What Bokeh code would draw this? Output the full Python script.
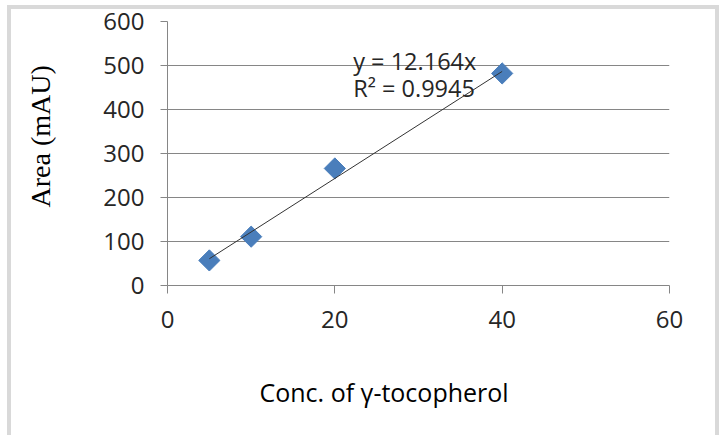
from bokeh.plotting import figure
from bokeh.models import Range1d, FixedTicker, Label, Title
from bokeh.embed import file_html
from bokeh.resources import INLINE
import numpy as np

# ---- data ----
conc = [5, 10, 20, 40]
area = [57, 111, 266, 482]
slope = 12.164
r2 = 0.9945
x_ticks = [0, 20, 40, 60]
y_ticks = [0, 100, 200, 300, 400, 500, 600]
x_title = "Conc. of γ-tocopherol"
y_title = "Area (mAU)"

TICK_FONT = "Open Sans"
TXT = "#262626"
GRID = "#868686"

p = figure(width=719, height=435, output_backend="svg", toolbar_location=None,
           x_range=Range1d(0, 60), y_range=Range1d(0, 600),
           min_border_left=167, min_border_right=50, min_border_top=21,
           min_border_bottom=150, background_fill_color="white",
           border_fill_color=None)
p.outline_line_color = None
p.styles = {
    "background-color": "white",
    "box-shadow": ("inset 0 5px 0 0 white, inset 7px 0 0 0 white, "
                   "inset 0 9px 0 0 #d9d9d9, inset 11px 0 0 0 #d9d9d9, "
                   "inset -4px 0 0 0 #d9d9d9"),
}

# grid
p.xgrid.grid_line_color = None
p.ygrid.grid_line_color = GRID
p.ygrid.grid_line_width = 1
p.ygrid.ticker = FixedTicker(ticks=y_ticks)

# axes
for ax in (p.xaxis[0], p.yaxis[0]):
    ax.axis_line_color = GRID
    ax.major_tick_line_color = GRID
    ax.minor_tick_line_color = None
    ax.major_tick_in = 0
    ax.major_label_text_font = TICK_FONT
    ax.major_label_text_font_size = "24px"
    ax.major_label_text_color = TXT

p.xaxis.ticker = FixedTicker(ticks=x_ticks)
p.yaxis.ticker = FixedTicker(ticks=y_ticks)
p.xaxis.major_tick_out = 8
p.yaxis.major_tick_out = 7
p.xaxis.major_label_standoff = 17
p.yaxis.major_label_standoff = 16

# spacing panels between the axes and their titles
p.add_layout(Title(text=" ", text_font_size="10px", standoff=32), "left")
p.add_layout(Title(text=" ", text_font_size="10px", standoff=29), "below")

# y-axis title (a little above centre, as in the original)
p.add_layout(Title(text=y_title, align="left", offset=78, standoff=0,
                   text_font="Liberation Serif", text_font_size="28px",
                   text_font_style="normal", text_color="black"), "left")

# data points
p.scatter(conc, area, marker="square", angle=np.pi / 4, size=15,
          fill_color="#4a7ebb", line_color="#4a7ebb")

# linear trendline through origin
tx = np.array([min(conc), max(conc)], dtype=float)
p.line(tx, slope * tx, line_color="#333333", line_width=1)

# equation
p.add_layout(Label(x=22.2, y=511, text=f"y = {slope}x", text_font=TICK_FONT,
                   text_font_size="23.5px", text_color=TXT, text_align="left",
                   text_baseline="alphabetic"))
p.add_layout(Label(x=22.2, y=448, text=f"R² = {r2}", text_font=TICK_FONT,
                   text_font_size="23.5px", text_color=TXT, text_align="left",
                   text_baseline="alphabetic"))

# x-axis title (left of centre, as in the original)
p.add_layout(Title(text=x_title, align="left", offset=92, standoff=0,
                   text_font=TICK_FONT, text_font_size="25px",
                   text_font_style="normal", text_color="black"), "below")

open("out.html", "w").write(file_html(p, INLINE))
